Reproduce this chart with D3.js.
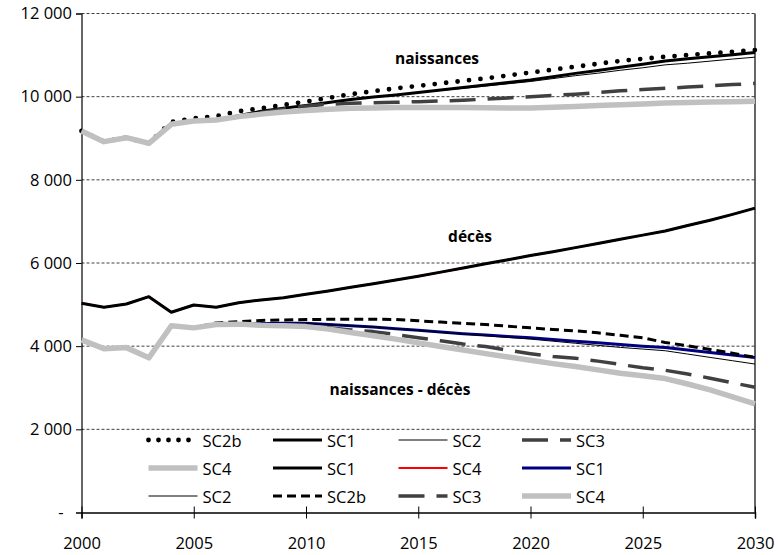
<!DOCTYPE html>
<html><head><meta charset="utf-8">
<script src="https://cdn.jsdelivr.net/npm/d3@7"></script>
<style>
html,body{margin:0;padding:0;background:#fff;}
svg{display:block;font-family:"Open Sans",sans-serif;}
</style></head>
<body><svg id="c" width="778" height="555"></svg>
<script>
const years = [2000,2001,2002,2003,2004,2005,2006,2007,2008,2009,2010,2011,2012,2013,2014,2015,2016,2017,2018,2019,2020,2021,2022,2023,2024,2025,2026,2027,2028,2029,2030];
const yTicks = [0,2000,4000,6000,8000,10000,12000];
const yTickLabels = ["-","2 000","4 000","6 000","8 000","10 000","12 000"];
const xTicks = [2000,2005,2010,2015,2020,2025,2030];

// naissances
const naisSC2b = [9175,8918,9014,8879,9390,9480,9530,9650,9720,9800,9880,9970,10060,10130,10200,10260,10320,10380,10440,10510,10580,10650,10720,10790,10860,10910,10960,11000,11040,11080,11120];
const naisSC1  = [9175,8918,9014,8879,9336,9415,9440,9540,9650,9720,9790,9860,9930,9990,10040,10100,10160,10220,10280,10340,10400,10480,10560,10630,10710,10780,10860,10910,10960,11010,11060];
const naisSC2  = [9175,8918,9014,8879,9336,9415,9440,9540,9650,9720,9790,9860,9930,9990,10040,10100,10150,10200,10255,10310,10365,10435,10505,10565,10635,10695,10765,10805,10855,10905,10950];
const naisSC3  = [9175,8918,9014,8879,9336,9415,9440,9530,9620,9700,9770,9820,9840,9855,9865,9880,9895,9915,9940,9970,10000,10030,10060,10100,10140,10170,10200,10230,10260,10290,10320];
const naisSC4  = [9175,8918,9014,8879,9336,9415,9440,9520,9580,9630,9670,9700,9720,9730,9740,9740,9740,9740,9735,9730,9730,9745,9765,9785,9805,9825,9845,9860,9870,9880,9890];
// décès
const decesSC1 = [5031,4935,5014,5190,4815,4990,4935,5046,5110,5166,5248,5327,5416,5503,5592,5680,5780,5880,5980,6080,6180,6270,6370,6470,6570,6670,6770,6900,7030,7170,7320];
const decesSC4 = [5031,4935,5014,5190,4815,4990,4935,5046,5110,5166,5248,5327,5416,5503,5592,5680,5780,5880,5980,6080,6180,6270,6370,6470,6570,6670,6770,6900,7030,7170,7320];
// naissances - décès
const soldeSC1  = [4150,3940,3965,3720,4490,4440,4520,4530,4540,4550,4550,4520,4490,4460,4420,4380,4340,4300,4270,4230,4200,4160,4120,4080,4040,4000,3970,3910,3850,3790,3730];
const soldeSC2  = [4150,3940,3965,3720,4490,4440,4520,4530,4540,4550,4550,4520,4490,4460,4420,4380,4330,4290,4250,4210,4170,4120,4070,4020,3970,3930,3890,3810,3730,3650,3570];
const soldeSC2b = [4150,3940,3965,3720,4490,4440,4560,4590,4620,4630,4640,4645,4650,4650,4640,4610,4580,4550,4520,4480,4440,4400,4370,4320,4260,4200,4090,4010,3920,3830,3730];
const soldeSC3  = [4150,3940,3965,3720,4490,4440,4520,4530,4520,4500,4480,4440,4390,4350,4280,4200,4130,4050,3990,3900,3820,3750,3710,3640,3560,3480,3420,3330,3230,3120,3010];
const soldeSC4  = [4150,3940,3965,3720,4490,4440,4520,4530,4500,4490,4470,4410,4330,4250,4170,4080,3990,3910,3820,3740,3660,3580,3510,3430,3350,3290,3220,3090,2950,2780,2610];

const seriesNames = ["SC2b","SC1","SC2","SC3","SC4","SC1","SC4","SC1","SC2","SC2b","SC3","SC4"];
const seriesData = [naisSC2b,naisSC1,naisSC2,naisSC3,naisSC4,decesSC1,decesSC4,soldeSC1,soldeSC2,soldeSC2b,soldeSC3,soldeSC4];

const styles = [
  {c:"#000",w:4.8,d:"0 11.5",ld:"0 10",cap:"round"},
  {c:"#000",w:3},
  {c:"#000",w:1},
  {c:"#404040",w:3.5,d:"26 12",ld:"26 12"},
  {c:"#c0c0c0",w:5.5},
  {c:"#000",w:3},
  {c:"#ff0000",w:2},
  {c:"#000080",w:3},
  {c:"#000",w:1},
  {c:"#000",w:3,d:"9 5",ld:"9 5"},
  {c:"#404040",w:3.5,d:"26 12",ld:"26 12"},
  {c:"#c0c0c0",w:5.5}
];
const drawOrder = [0,1,2,3,4,6,5,7,8,9,10,11];

const svg = d3.select("#c");
const L=81.5,R=755,T=13.5,B=512.5;
const x = d3.scaleLinear().domain([2000,2030]).range([L,R]);
const y = d3.scaleLinear().domain([0,12000]).range([B,T]);

// gridlines
svg.append("g").selectAll("line").data(yTicks.filter(v=>v>0)).join("line")
  .attr("x1",L).attr("x2",R).attr("y1",d=>y(d)).attr("y2",d=>y(d))
  .attr("stroke","#404040").attr("stroke-width",1).attr("stroke-dasharray","3 2");

// y axis
const yAxis = d3.axisLeft(y).tickValues(yTicks).tickSize(5.5)
  .tickFormat((d,i)=>yTickLabels[i]);
const gy = svg.append("g").attr("transform",`translate(${L},0)`).call(yAxis);
gy.select(".domain").attr("stroke","#000").attr("stroke-width",1.2);
gy.selectAll(".tick line").attr("stroke","#000");
gy.selectAll(".tick text").attr("font-size",16.5).attr("font-family","Open Sans").attr("fill","#000")
  .attr("x",d=>d===0?-18:-9.5);

// right border
svg.append("line").attr("x1",R).attr("x2",R).attr("y1",T).attr("y2",B).attr("stroke","#000").attr("stroke-width",1.2);

// x axis
const xAxis = d3.axisBottom(x).tickValues(xTicks).tickSize(6).tickFormat(d3.format("d"));
const gx = svg.append("g").attr("transform",`translate(0,${B})`).call(xAxis);
gx.select(".domain").attr("stroke","#000").attr("stroke-width",1.5);
gx.selectAll(".tick line").attr("stroke","#000").attr("y1",-6).attr("y2",6);
gx.selectAll(".tick text").attr("font-size",16.5).attr("font-family","Open Sans").attr("fill","#000").attr("y",25);

// lines
const line = d3.line().x((d,i)=>x(years[i])).y(d=>y(d));
const gl = svg.append("g");
drawOrder.forEach(k=>{
  const s=styles[k];
  gl.append("path").datum(seriesData[k]).attr("d",line)
    .attr("fill","none").attr("stroke",s.c).attr("stroke-width",s.w)
    .attr("stroke-dasharray",s.d||null).attr("stroke-linecap",s.cap||"butt")
    .attr("stroke-linejoin","round");
});

// annotations
const ann = [
  {t:"naissances",x:437,y:58},
  {t:"décès",x:470,y:236},
  {t:"naissances - décès",x:400,y:389}
];
svg.append("g").selectAll("text").data(ann).join("text")
  .attr("x",d=>d.x).attr("y",d=>d.y).attr("text-anchor","middle").attr("dominant-baseline","central")
  .attr("font-weight","bold").attr("font-size",15.5).attr("fill","#000").text(d=>d.t);

// legend
const colX=[148.5,273,398.5,522];
const rowY=[440,468,496];
const lg = svg.append("g");
seriesNames.forEach((nm,k)=>{
  const r=Math.floor(k/4), c=k%4, s=styles[k];
  const x0=colX[c], yy=rowY[r];
  lg.append("line").attr("x1",x0).attr("x2",x0+49).attr("y1",yy).attr("y2",yy)
    .attr("stroke",s.c).attr("stroke-width",s.w)
    .attr("stroke-dasharray",s.ld||null)
    .attr("stroke-linecap",s.cap||"butt");
  lg.append("text").attr("x",x0+54).attr("y",yy).attr("dominant-baseline","central")
    .attr("font-size",16.5).attr("fill","#000").text(nm);
});
</script></body></html>
